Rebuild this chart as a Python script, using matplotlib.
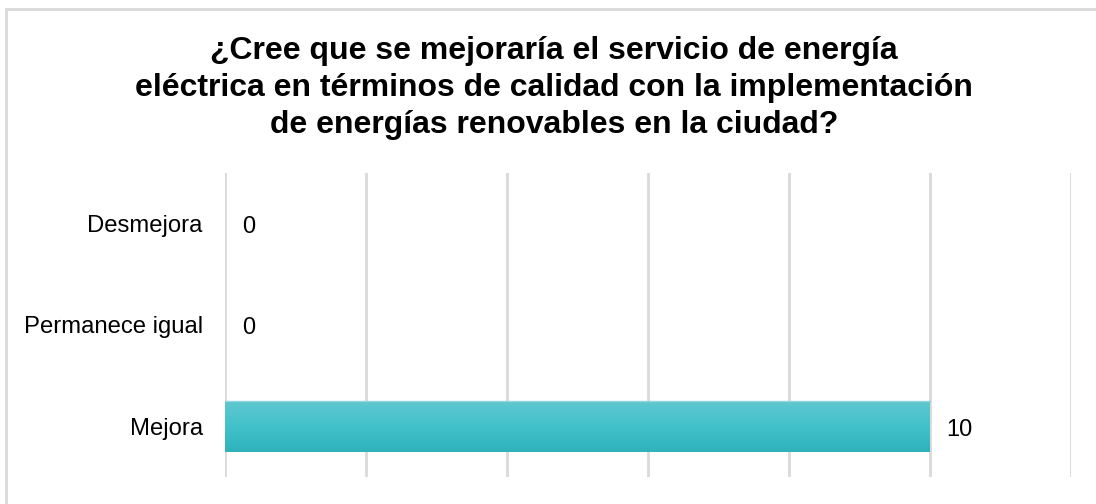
import numpy as np
import matplotlib.pyplot as plt
from matplotlib.patches import Rectangle
from matplotlib.colors import LinearSegmentedColormap

plt.rcParams['font.family'] = ['Liberation Sans', 'DejaVu Sans']

categorias = ['Mejora', 'Permanece igual', 'Desmejora']
valores = [10, 0, 0]
ticks_x = [0, 2, 4, 6, 8, 10, 12]
titulo = ('¿Cree que se mejoraría el servicio de energía\n'
          'eléctrica en términos de calidad con la implementación\n'
          'de energías renovables en la ciudad?')

fig = plt.figure(figsize=(10.96, 5.04), dpi=100)
ax = fig.add_axes([225/1096, 1 - 477/504, (1071 - 225)/1096, (477 - 173)/504])

y = np.arange(len(categorias))
bars = ax.barh(y, valores, height=0.5, color='#43c1ca', edgecolor='none', zorder=2)

# degradado vertical dentro de cada barra (oscuro abajo, claro arriba)
cmap = LinearSegmentedColormap.from_list('teal', ['#2fb2bc', '#42c2cb', '#5fc7ce'])
grad = np.linspace(0, 1, 64).reshape(-1, 1)
for b in bars:
    if b.get_width() <= 0:
        continue
    x0, y0 = b.get_x(), b.get_y()
    w, h = b.get_width(), b.get_height()
    im = ax.imshow(grad, cmap=cmap, aspect='auto', extent=(x0, x0 + w, y0, y0 + h),
                   origin='lower', zorder=3)
    im.set_clip_path(b)
    ax.plot([x0, x0 + w], [y0 + h, y0 + h], color='#8ed6db', lw=1, zorder=4)

for yi, v in zip(y, valores):
    ax.annotate(str(v), (v, yi), xytext=(12, -2.5), textcoords='offset points',
                ha='left', va='center', fontsize=17, color='#000000')

ax.set_xlim(0, 12)
ax.set_ylim(-0.5, 2.5)
ax.set_xticks(ticks_x)
ax.set_xticklabels([])
ax.set_yticks(y)
ax.set_yticklabels(categorias, fontsize=17.2)
ax.tick_params(length=0, pad=16)
ax.grid(axis='x', color='#d9d9d9', lw=2, zorder=0)
ax.set_axisbelow(True)
for s in ax.spines.values():
    s.set_visible(False)

fig.text(554/1096, 1 - 88/504, titulo, ha='center', va='center', fontsize=23,
         fontweight='bold', linespacing=1.32)

fig.patches.append(Rectangle((6/1096, -0.1), 1.2, 1 - 9/504 + 0.1, transform=fig.transFigure,
                             fill=False, edgecolor='#d9d9d9', lw=2))

fig.savefig('out.png', dpi=100)
